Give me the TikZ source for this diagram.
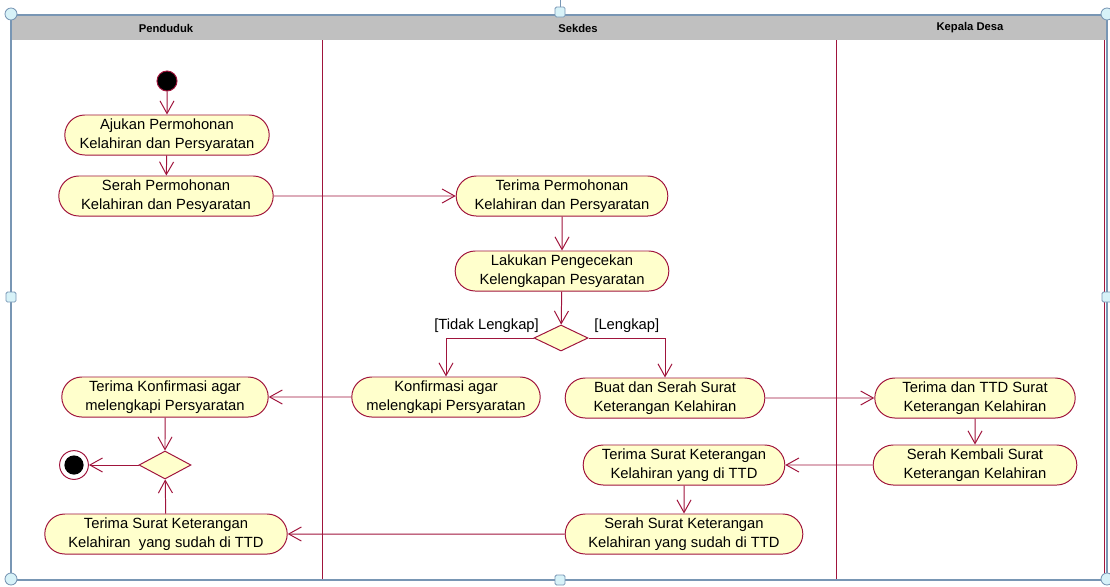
\documentclass[tikz,border=0pt]{standalone}
\usepackage{fontspec}
\setmainfont{Liberation Sans}
\usetikzlibrary{shapes.misc,shapes.geometric,arrows.meta,positioning}
\definecolor{umlred}{RGB}{160,20,60}
\definecolor{umlfill}{RGB}{255,255,204}
\definecolor{headgray}{RGB}{192,192,192}
\definecolor{frameblue}{RGB}{120,150,180}
\definecolor{handlefill}{RGB}{215,242,248}
\tikzstyle{activity} = [draw=umlred, rounded rectangle, fill=umlfill,
    minimum height=1cm, inner xsep=2pt, inner ysep=1pt, align=center,
    font=\fontsize{10.5}{13.5}\selectfont]
\tikzstyle{decision} = [draw=umlred, diamond, fill=umlfill, inner sep=0pt]
\tikzstyle{initial} = [draw=umlred, circle, fill=black, inner sep=0pt, minimum size=0.5cm]
\tikzstyle{final} = [draw=umlred, circle, inner sep=0pt, minimum size=0.72cm,
    path picture={\fill[black] (path picture bounding box.center) circle (0.24cm);}]
\tikzstyle{connector} = [-{Straight Barb[length=9pt,width=10pt]}, draw=umlred]
\tikzstyle{guard} = [font=\fontsize{10.5}{13.5}\selectfont, inner sep=1pt]
\tikzstyle{lanetitle} = [font=\fontsize{8}{9}\selectfont\bfseries]
\tikzstyle{handle} = [draw=frameblue, fill=handlefill, line width=0.6pt]

\begin{document}
\begin{tikzpicture}[x=0.025cm, y=-0.025cm, line width=0.7pt]
	\useasboundingbox (0,0) rectangle (1110,586);
	% swimlanes
	\fill[headgray] (11,15) rectangle (1107,40);
	\draw[umlred] (322,40) -- (322,580) (836,40) -- (836,580) (1104,40) -- (1104,580);
	\draw[frameblue, line width=1pt] (11,15) rectangle (1107,580);
	\node[lanetitle] (penduduk) at (166,28) {Penduduk};
	\node[lanetitle] (sekdes) at (578,28) {Sekdes};
	\node[lanetitle] (kades) at (970,28) {Kepala Desa};
	
	% Penduduk
	\node[initial] (mulai) at (167,81) {};
	\node[activity, minimum width=5.25cm] (ajukan) at (167,135) {Ajukan Permohonan\\Kelahiran dan Persyaratan};
	\node[activity, minimum width=5.5cm] (serah) at (166,196) {Serah Permohonan\\Kelahiran dan Pesyaratan};
	\node[activity, minimum width=5.3cm] (terimaKonf) at (165,397) {Terima Konfirmasi agar\\melengkapi Persyaratan};
	\node[decision, minimum width=1.3cm, minimum height=0.7cm] (cekSelesai) at (165,465) {};
	\node[final] (selesai) at (74,465) {};
	\node[activity, minimum width=6.2cm] (terimaSurat) at (166,534) {Terima Surat Keterangan\\Kelahiran~ yang sudah di TTD};
	
	% Sekdes
	\node[activity, minimum width=5.43cm] (terimaMohon) at (562,196) {Terima Permohonan\\Kelahiran dan Persyaratan};
	\node[activity, minimum width=5.48cm, below=0.85cm of terimaMohon] (cek) {Lakukan Pengecekan\\Kelengkapan Pesyaratan};
	\node[decision, minimum width=1.35cm, minimum height=0.65cm] (cekLengkap) at (561,338) {};
	\node[activity, minimum width=4.85cm] (konfirmasi) at (446,397) {Konfirmasi agar\\melengkapi Persyaratan};
	\node[activity, minimum width=5.13cm] (buat) at (665,398) {Buat dan Serah Surat\\Keterangan Kelahiran};
	\node[activity, minimum width=5.18cm] (terimaTTD) at (684,465) {Terima Surat Keterangan\\Kelahiran yang di TTD};
	\node[activity, minimum width=6.08cm] (serahSurat) at (684,534) {Serah Surat Keterangan\\Kelahiran yang sudah di TTD};
	
	% Kepala Desa
	\node[activity, minimum width=5.15cm] (ttd) at (975,398) {Terima dan TTD Surat\\Keterangan Kelahiran};
	\node[activity, minimum width=5.23cm, below=0.65cm of ttd] (serahKembali) {Serah Kembali Surat\\Keterangan Kelahiran};
	
	\draw[connector] (mulai) -- (ajukan);
	\draw[connector] (ajukan) -- (serah);
	\draw[connector] (serah) -- (terimaMohon);
	\draw[connector] (terimaMohon) -- (cek);
	\draw[connector] (cek) -- (cekLengkap);
	\draw[connector] (cekLengkap.west) -| node[guard, pos=0, anchor=south east, xshift=0.18cm, yshift=0.1cm] {[Tidak Lengkap]} (konfirmasi);
	\draw[connector] (cekLengkap.east) -| node[guard, pos=0, anchor=south west, xshift=0.1cm, yshift=0.1cm] {[Lengkap]} (buat);
	\draw[connector] (konfirmasi) -- (terimaKonf);
	\draw[connector] (buat) -- (ttd);
	\draw[connector] (ttd) -- (serahKembali);
	\draw[connector] (serahKembali) -- (terimaTTD);
	\draw[connector] (terimaTTD) -- (serahSurat);
	\draw[connector] (serahSurat) -- (terimaSurat);
	\draw[connector] (terimaKonf) -- (cekSelesai);
	\draw[connector] (terimaSurat) -- (cekSelesai);
	\draw[connector] (cekSelesai) -- (selesai);
	
	% selection handles
	\draw[frameblue, line width=0.6pt] (560,0) -- (560,7);
	\foreach \hx/\hy in {11/14, 1107/14, 11/579, 1107/579}
		\draw[handle] (\hx,\hy) circle (0.15cm);
	\foreach \hx/\hy in {560/12, 11/297, 1107/297, 560/580}
		\draw[handle, rounded corners=1pt] (\hx-5,\hy-5) rectangle (\hx+5,\hy+5);
\end{tikzpicture}
\end{document}
